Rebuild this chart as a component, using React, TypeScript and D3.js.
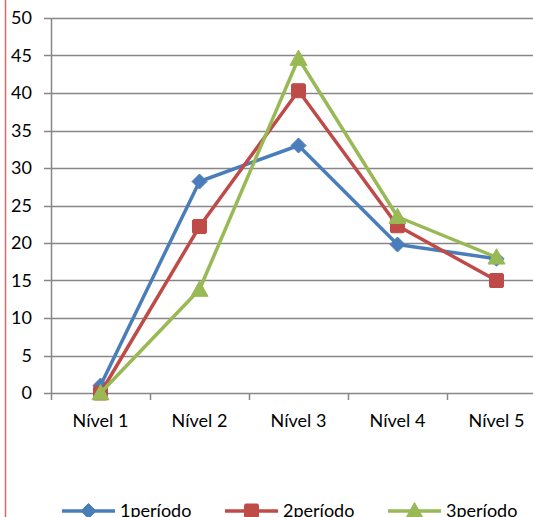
import React from "react";
import * as d3 from "d3";

const categories = ["Nível 1", "Nível 2", "Nível 3", "Nível 4", "Nível 5"];
const seriesNames = ["1período", "2período", "3período"];
const serie1 = [1, 28.2, 33, 19.8, 17.9];
const serie2 = [0, 22.2, 40.3, 22.3, 15];
const serie3 = [0, 13.8, 44.6, 23.5, 18.1];
const yTicks = [0, 5, 10, 15, 20, 25, 30, 35, 40, 45, 50];
const colors = ["#4A7EBB", "#BE4B48", "#98B954"];
const markers = ["diamond", "square", "triangle"];

const W = 533;
const H = 517;
const left = 51;
const top = 18;
const bottom = 393;
const band = 99;

export default function App() {
  const x = d3
    .scaleBand<string>()
    .domain(categories)
    .range([left, left + band * categories.length]);
  const y = d3.scaleLinear().domain([0, 50]).range([bottom, top]);
  const series = [serie1, serie2, serie3];
  const line = d3
    .line<number>()
    .x((_, i) => (x(categories[i]) as number) + x.bandwidth() / 2)
    .y((d) => y(d));

  const marker = (type: string, cx: number, cy: number, color: string, key: string) => {
    if (type === "diamond") {
      const s = 7.5;
      return (
        <path
          key={key}
          d={`M${cx},${cy - s}L${cx + s},${cy}L${cx},${cy + s}L${cx - s},${cy}Z`}
          fill={color}
          stroke={color}
          strokeWidth={1}
          strokeLinejoin="round"
        />
      );
    }
    if (type === "square") {
      const s = 7;
      return (
        <rect key={key} x={cx - s} y={cy - s} width={2 * s} height={2 * s} fill={color} stroke={color} strokeWidth={1} rx={1.5} />
      );
    }
    const s = 8.5;
    return (
      <path
        key={key}
        d={`M${cx},${cy - s}L${cx + s},${cy + s * 0.8}L${cx - s},${cy + s * 0.8}Z`}
        fill={color}
        stroke={color}
        strokeWidth={1}
        strokeLinejoin="round"
      />
    );
  };

  const legendX = [62, 225, 388];
  const legendY = 511;

  return (
    <svg
      width={W}
      height={H}
      style={{ position: "absolute", left: 0, top: 0, background: "#fff" }}
      fontFamily="Lato, 'Open Sans', sans-serif"
    >
      <rect x={0} y={0} width={W} height={H} fill="#fff" />
      <line x1={5.5} y1={0} x2={5.5} y2={H} stroke="#D36A6A" strokeWidth={1.5} />
      {yTicks.map((t) => (
        <g key={t}>
          <line x1={44} x2={W} y1={Math.round(y(t)) + 0.5} y2={Math.round(y(t)) + 0.5} stroke="#878787" strokeWidth={1.5} />
          <text x={32} y={y(t)} dy="0.36em" textAnchor="end" fontSize={18} fill="#000">
            {t}
          </text>
        </g>
      ))}
      <line x1={left + 0.5} x2={left + 0.5} y1={top} y2={bottom + 1} stroke="#878787" strokeWidth={1.5} />
      {d3.range(categories.length + 1).map((i) => (
        <line
          key={i}
          x1={left + i * band + 0.5}
          x2={left + i * band + 0.5}
          y1={bottom}
          y2={bottom + 7}
          stroke="#878787"
          strokeWidth={1.5}
        />
      ))}
      {categories.map((c) => (
        <text key={c} x={(x(c) as number) + x.bandwidth() / 2} y={427} textAnchor="middle" fontSize={18} fill="#000">
          {c}
        </text>
      ))}
      {series.map((s, si) => (
        <g key={si}>
          <path d={line(s) || ""} fill="none" stroke={colors[si]} strokeWidth={3.5} strokeLinejoin="round" />
          {s.map((v, i) =>
            marker(markers[si], (x(categories[i]) as number) + x.bandwidth() / 2, y(v), colors[si], `${si}-${i}`)
          )}
        </g>
      ))}
      {seriesNames.map((n, i) => (
        <g key={n}>
          <line x1={legendX[i]} x2={legendX[i] + 53} y1={legendY} y2={legendY} stroke={colors[i]} strokeWidth={3.5} />
          {marker(markers[i], legendX[i] + 26.5, legendY, colors[i], `l${i}`)}
          <text x={legendX[i] + 58} y={legendY} dy="0.36em" fontSize={18} fill="#000">
            {n}
          </text>
        </g>
      ))}
    </svg>
  );
}
